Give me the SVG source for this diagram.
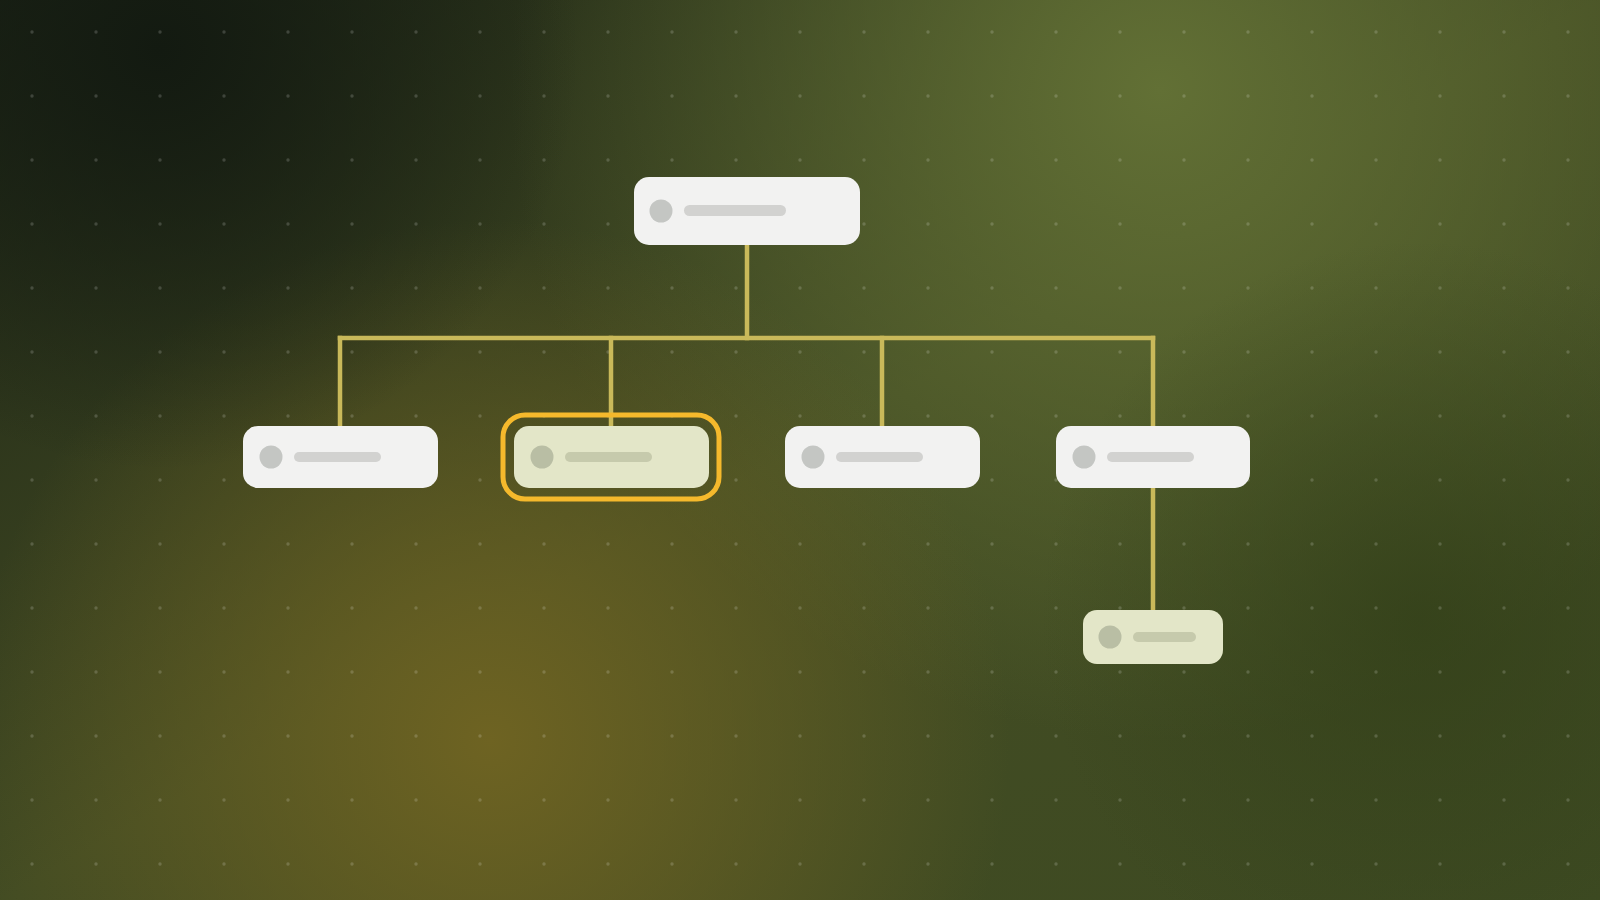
<svg xmlns="http://www.w3.org/2000/svg" width="1600" height="900" viewBox="0 0 1600 900">
<defs>
<linearGradient id="base" x1="0" y1="0" x2="1" y2="1">
<stop offset="0" stop-color="#1c2416"/>
<stop offset="0.5" stop-color="#434c23"/>
<stop offset="1" stop-color="#3d4a22"/>
</linearGradient>
<radialGradient id="g1" cx="1160" cy="90" r="650" gradientUnits="userSpaceOnUse">
<stop offset="0" stop-color="#627035" stop-opacity="1"/>
<stop offset="1" stop-color="#627035" stop-opacity="0"/>
</radialGradient>
<radialGradient id="g2" cx="490" cy="740" r="520" gradientUnits="userSpaceOnUse">
<stop offset="0" stop-color="#6e6322" stop-opacity="1"/>
<stop offset="1" stop-color="#6e6322" stop-opacity="0"/>
</radialGradient>
<radialGradient id="g3" cx="160" cy="50" r="420" gradientUnits="userSpaceOnUse">
<stop offset="0" stop-color="#131a11" stop-opacity="1"/>
<stop offset="1" stop-color="#131a11" stop-opacity="0"/>
</radialGradient>
<radialGradient id="g4" cx="1420" cy="620" r="380" gradientUnits="userSpaceOnUse">
<stop offset="0" stop-color="#334019" stop-opacity="0.8"/>
<stop offset="1" stop-color="#334019" stop-opacity="0"/>
</radialGradient>
<pattern id="dots" x="0" y="0" width="64" height="64" patternUnits="userSpaceOnUse">
<circle cx="32" cy="32" r="1.7" fill="#ffffff" fill-opacity="0.17"/>
</pattern>
<style>
.node{fill:#f2f2f1}
.dot{fill:#c4c6c3}
.bar{fill:#d2d2d0}
.hl{fill:#e3e6c8}
.hldot{fill:#b9bea4}
.hlbar{fill:#c6caac}
.conn{stroke:#c9b95a;stroke-width:4.5;fill:none;stroke-linecap:square}
.ring{fill:none;stroke:#f5b92c;stroke-width:5}
</style>
</defs>
<rect width="1600" height="900" fill="url(#base)"/>
<rect width="1600" height="900" fill="url(#g1)"/>
<rect width="1600" height="900" fill="url(#g2)"/>
<rect width="1600" height="900" fill="url(#g4)"/>
<rect width="1600" height="900" fill="url(#g3)"/>
<rect width="1600" height="900" fill="url(#dots)"/>
<g id="connectors">
<path class="conn" d="M747 245 V338"/>
<path class="conn" d="M340 338 H1153"/>
<path class="conn" d="M340 338 V426"/>
<path class="conn" d="M611 338 V426"/>
<path class="conn" d="M882 338 V426"/>
<path class="conn" d="M1153 338 V426"/>
<path class="conn" d="M1153 488 V610"/>
</g>
<g id="root">
<rect class="node" x="634" y="177" width="226" height="68" rx="15"/>
<circle class="dot" cx="661" cy="211" r="11.5"/>
<rect class="bar" x="684" y="205" width="102" height="11" rx="5.5"/>
</g>
<g id="child1">
<rect class="node" x="243" y="426" width="195" height="62" rx="15"/>
<circle class="dot" cx="271" cy="457" r="11.5"/>
<rect class="bar" x="294" y="452" width="87" height="10" rx="5"/>
</g>
<g id="child2">
<rect class="ring" x="503" y="415" width="216" height="84" rx="22"/>
<rect class="hl" x="514" y="426" width="195" height="62" rx="15"/>
<circle class="hldot" cx="542" cy="457" r="11.5"/>
<rect class="hlbar" x="565" y="452" width="87" height="10" rx="5"/>
</g>
<g id="child3">
<rect class="node" x="785" y="426" width="195" height="62" rx="15"/>
<circle class="dot" cx="813" cy="457" r="11.5"/>
<rect class="bar" x="836" y="452" width="87" height="10" rx="5"/>
</g>
<g id="child4">
<rect class="node" x="1056" y="426" width="194" height="62" rx="15"/>
<circle class="dot" cx="1084" cy="457" r="11.5"/>
<rect class="bar" x="1107" y="452" width="87" height="10" rx="5"/>
</g>
<g id="grandchild">
<rect class="hl" x="1083" y="610" width="140" height="54" rx="14"/>
<circle class="hldot" cx="1110" cy="637" r="11.5"/>
<rect class="hlbar" x="1133" y="632" width="63" height="10" rx="5"/>
</g>
</svg>
